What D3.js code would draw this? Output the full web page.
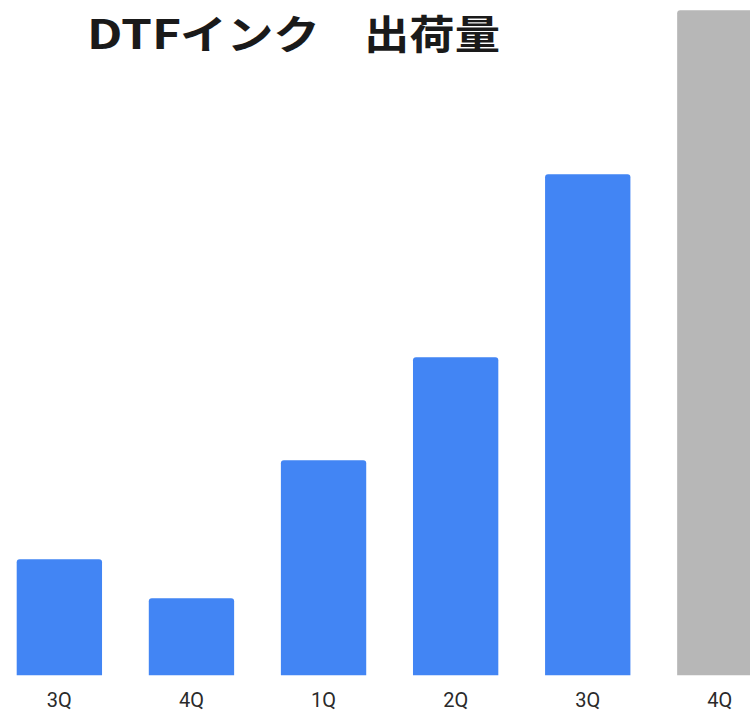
<!DOCTYPE html>
<html>
<head>
<meta charset="utf-8">
<script src="https://cdn.jsdelivr.net/npm/d3@7"></script>
<style>
  html, body { margin: 0; padding: 0; background: #fff; }
  svg { display: block; }
</style>
</head>
<body>
<svg id="chart" width="750" height="713"></svg>
<script>
// Quarterly DTF ink shipments (relative volume)
const titleParts = ["DTF", "インク", "出荷量"];
const quarters = ["3Q", "4Q", "1Q", "2Q", "3Q", "4Q"];
const shipments = [116, 77, 215, 318, 501, 665];
const isForecast = [false, false, false, false, false, true];

const colors = { actual: "#4285F4", forecast: "#B7B7B7" };

const svg = d3.select("#chart");

// Index-based band scale, since quarter labels repeat across years
const x = d3.scaleBand()
  .domain(d3.range(quarters.length))
  .range([16.7, 762.5])
  .paddingInner(0.354)
  .paddingOuter(0);

const y = d3.scaleLinear()
  .domain([0, 665])
  .range([675.3, 10.3]);

// Bar with rounded top corners only
function topRoundedBar(x0, y0, w, h, r) {
  r = Math.min(r, w / 2, h);
  return `M${x0},${y0 + h}` +
    `V${y0 + r}` +
    `Q${x0},${y0} ${x0 + r},${y0}` +
    `H${x0 + w - r}` +
    `Q${x0 + w},${y0} ${x0 + w},${y0 + r}` +
    `V${y0 + h}Z`;
}

svg.append("g")
  .selectAll("path")
  .data(shipments)
  .join("path")
  .attr("d", (d, i) => topRoundedBar(x(i), y(d), x.bandwidth(), y(0) - y(d), 3))
  .attr("fill", (d, i) => isForecast[i] ? colors.forecast : colors.actual);

// Category axis (labels only)
const xAxis = d3.axisBottom(x)
  .tickFormat(i => quarters[i])
  .tickSize(0)
  .tickPadding(0);

const gx = svg.append("g")
  .attr("transform", `translate(0,${y(0)})`)
  .call(xAxis);
gx.select(".domain").remove();
gx.selectAll("text")
  .attr("dy", null)
  .attr("y", 32)
  .attr("font-family", "Roboto, 'Liberation Sans', Arial, sans-serif")
  .attr("font-size", 20)
  .attr("fill", "#2a2a2a");

// Title: a wide bold heading, set in three runs
const titleRuns = [
  { text: titleParts[0], x: 87, len: 94 },
  { text: titleParts[1], x: 180, len: 140 },
  { text: titleParts[2], x: 364, len: 136 }
];
const t = svg.append("text")
  .attr("y", 49)
  .attr("font-family", "'Noto Sans CJK JP', 'Noto Sans', sans-serif")
  .attr("font-weight", 700)
  .attr("font-size", 40)
  .attr("fill", "#1a1a1a");
t.selectAll("tspan")
  .data(titleRuns)
  .join("tspan")
  .attr("x", d => d.x)
  .attr("textLength", d => d.len)
  .attr("lengthAdjust", "spacingAndGlyphs")
  .text(d => d.text);
</script>
</body>
</html>
